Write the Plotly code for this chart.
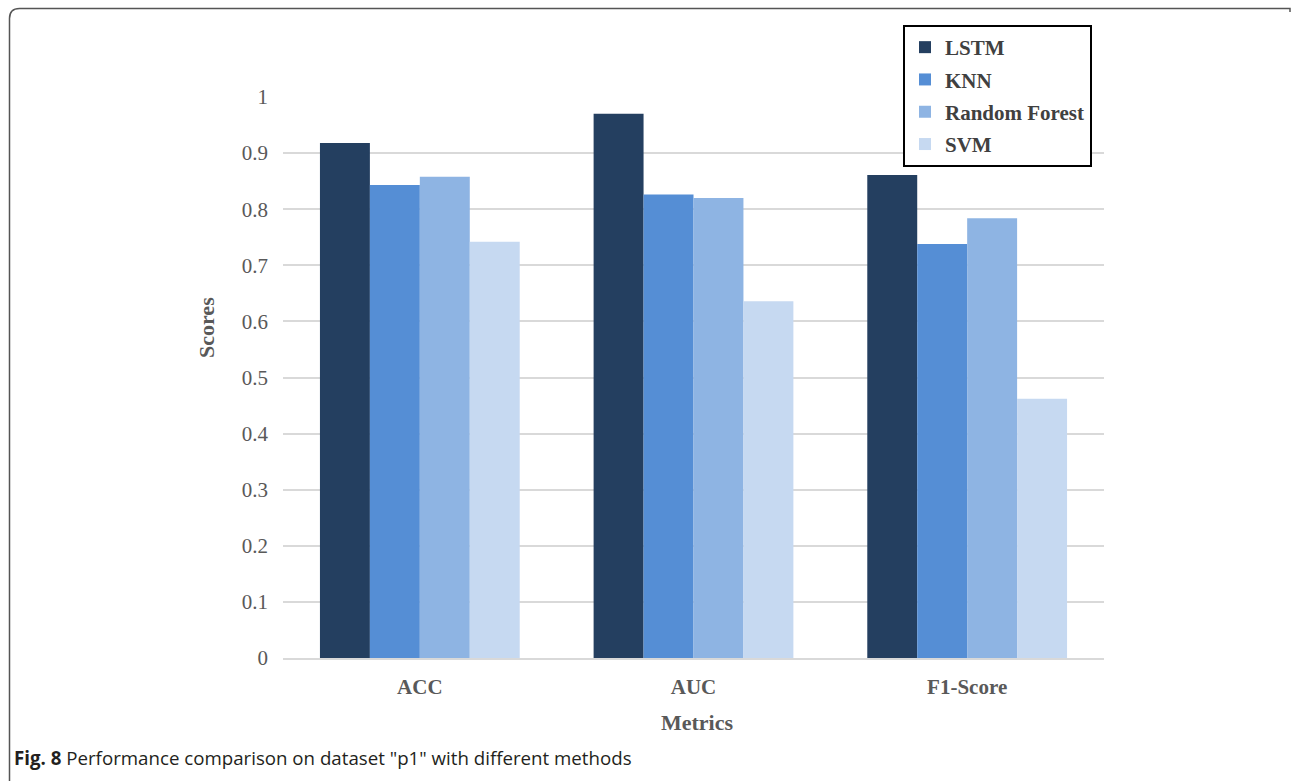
import plotly.graph_objects as go

# Metrics compared on dataset "p1"
metrics = ["ACC", "AUC", "F1-Score"]
methods = ["LSTM", "KNN", "Random Forest", "SVM"]
lstm_scores = [0.918, 0.970, 0.861]
knn_scores = [0.843, 0.826, 0.738]
rf_scores = [0.858, 0.820, 0.784]
svm_scores = [0.742, 0.636, 0.462]
y_ticks = [0, 0.1, 0.2, 0.3, 0.4, 0.5, 0.6, 0.7, 0.8, 0.9, 1]
y_tick_text = ["0", "0.1", "0.2", "0.3", "0.4", "0.5", "0.6", "0.7", "0.8", "0.9", "1"]

series = [lstm_scores, knn_scores, rf_scores, svm_scores]
colors = ["#243F60", "#558ED5", "#8EB4E3", "#C6D9F1"]

W, H = 1292, 781
L, R, T, B = 283, 1104, 97, 658  # plot area in pixels


def px(x):
    return (x - L) / (R - L)


def py(y):
    return (B - y) / (B - T)


fig = go.Figure()
for name, vals, col in zip(methods, series, colors):
    fig.add_trace(go.Bar(
        x=metrics, y=vals, name=name, marker=dict(color=col, line=dict(width=0)),
        legendgroup=name,
    ))

serif = "Liberation Serif"
fig.update_layout(
    width=W, height=H,
    margin=dict(l=L, r=W - R, t=T, b=H - B, pad=0),
    paper_bgcolor="white", plot_bgcolor="white",
    barmode="group", bargap=0.27, bargroupgap=0,
    font=dict(family=serif, color="#595959"),
    showlegend=True,
    legend=dict(
        x=px(903), y=py(25), xanchor="left", yanchor="top",
        bordercolor="black", borderwidth=2, bgcolor="white",
        font=dict(family=serif, size=21, color="#404040", weight="bold"),
        traceorder="grouped", tracegroupgap=2,
        itemwidth=30,
    ),
    xaxis=dict(
        showgrid=False, showline=True, linecolor="#D9D9D9", linewidth=1.5,
        ticks="", tickfont=dict(family=serif, size=21, color="#595959", weight="bold"),
        ticklabelstandoff=9,
    ),
    yaxis=dict(
        range=[0, 1], tickvals=y_ticks, ticktext=y_tick_text,
        showgrid=True, gridcolor="#D9D9D9", gridwidth=1.5,
        zeroline=False, showline=False, ticks="",
        tickfont=dict(family=serif, size=21, color="#595959"),
        ticklabelstandoff=14,
    ),
)

# axis titles
fig.add_annotation(
    text="Scores", x=px(206), y=py(328), xref="paper", yref="paper",
    xanchor="center", yanchor="middle",
    textangle=-90, showarrow=False,
    font=dict(family=serif, size=22, color="#595959", weight="bold"),
)
fig.add_annotation(
    text="Metrics", x=px(697), y=py(722), xref="paper", yref="paper",
    xanchor="center", yanchor="middle",
    showarrow=False,
    font=dict(family=serif, size=22, color="#595959", weight="bold"),
)

# figure caption
fig.add_annotation(
    text="<b>Fig. 8</b> Performance comparison on dataset \"p1\" with different methods",
    x=px(12), y=py(757), xref="paper", yref="paper", xanchor="left", yanchor="middle",
    showarrow=False,
    font=dict(family="Open Sans", size=18.7, color="#231F20"),
)

# outer frame with a rounded top-left corner
x0, y0, x1, r = px(9.5), py(8.5), px(1290), 10 / (R - L)
ry = 10 / (B - T)
frame_path = (
    f"M {x0},{py(790)} L {x0},{y0 - ry} "
    f"Q {x0},{y0} {x0 + r},{y0} L {x1},{y0} L {x1},{py(12)}"
)
fig.add_shape(
    type="path", path=frame_path, xref="paper", yref="paper",
    line=dict(color="#555555", width=1.5),
)

fig.write_html("out.html")
